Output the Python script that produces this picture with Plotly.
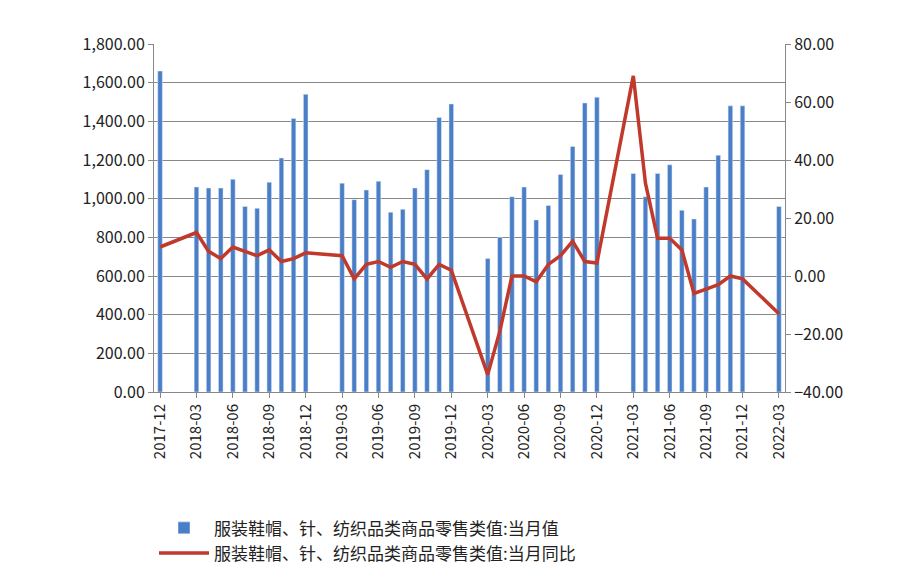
import plotly.graph_objects as go

months = []
y, m = 2017, 12
while (y, m) <= (2022, 3):
    months.append(f"{y}-{m:02d}")
    m += 1
    if m > 12:
        m = 1; y += 1

value_data = {
 "2017-12": 1660,
 "2018-03": 1060, "2018-04": 1055, "2018-05": 1055, "2018-06": 1100, "2018-07": 960, "2018-08": 950,
 "2018-09": 1085, "2018-10": 1210, "2018-11": 1415, "2018-12": 1540,
 "2019-03": 1080, "2019-04": 995, "2019-05": 1045, "2019-06": 1090, "2019-07": 930, "2019-08": 945,
 "2019-09": 1055, "2019-10": 1150, "2019-11": 1420, "2019-12": 1490,
 "2020-03": 690, "2020-04": 800, "2020-05": 1010, "2020-06": 1060, "2020-07": 890, "2020-08": 965,
 "2020-09": 1125, "2020-10": 1270, "2020-11": 1495, "2020-12": 1525,
 "2021-03": 1130, "2021-04": 1010, "2021-05": 1130, "2021-06": 1175, "2021-07": 940, "2021-08": 895,
 "2021-09": 1060, "2021-10": 1225, "2021-11": 1480, "2021-12": 1480,
 "2022-03": 960,
}
yoy_data = {
 "2017-12": 10,
 "2018-03": 15, "2018-04": 8.5, "2018-05": 6, "2018-06": 10, "2018-07": 8.5, "2018-08": 7,
 "2018-09": 9, "2018-10": 5, "2018-11": 6, "2018-12": 8,
 "2019-03": 7, "2019-04": -1, "2019-05": 4, "2019-06": 5, "2019-07": 3, "2019-08": 5,
 "2019-09": 4, "2019-10": -1, "2019-11": 4, "2019-12": 2,
 "2020-03": -34, "2020-04": -19, "2020-05": 0, "2020-06": 0, "2020-07": -2, "2020-08": 4,
 "2020-09": 7, "2020-10": 12, "2020-11": 5, "2020-12": 4.5,
 "2021-03": 69, "2021-04": 32, "2021-05": 13, "2021-06": 13, "2021-07": 9, "2021-08": -6,
 "2021-09": -4.5, "2021-10": -3, "2021-11": 0, "2021-12": -1,
 "2022-03": -13,
}
values = [value_data.get(k) for k in months]
yoy = [yoy_data.get(k) for k in months]
tick_labels = months[::3]

fig = go.Figure()
fig.add_bar(x=months, y=values, name="服装鞋帽、针、纺织品类商品零售类值:当月值",
            marker_color="#4a7fc8", width=0.38)
fig.add_scatter(x=months, y=yoy, yaxis="y2", mode="lines", connectgaps=True,
                name="服装鞋帽、针、纺织品类商品零售类值:当月同比",
                line=dict(color="#c0392b", width=3.5))

font = "Noto Sans CJK SC"
fig.update_layout(
    width=900, height=566, paper_bgcolor="white", plot_bgcolor="white",
    margin=dict(l=146, r=123, t=36, b=182, autoexpand=False),
    font=dict(family=font, size=16, color="#222"),
    xaxis=dict(type="category", categoryorder="array", categoryarray=months,
               tickmode="array", tickvals=tick_labels, ticktext=tick_labels,
               tickangle=-90, showline=True, linecolor="#888", ticks="outside",
               ticklen=5, tickcolor="#888", showgrid=False, tickfont=dict(size=15)),
    yaxis=dict(range=[0, 1800], dtick=200, tickformat=",.2f", gridcolor="#888",
               showline=True, linecolor="#888", ticks="outside", tickcolor="#888", ticklen=5,
               zeroline=False, tickfont=dict(size=16)),
    yaxis2=dict(overlaying="y", side="right", range=[-40, 80], dtick=20, tickformat=".2f",
                showgrid=False, showline=True, linecolor="#888", ticks="outside",
                tickcolor="#888", ticklen=5, zeroline=False, tickfont=dict(size=16)),
    legend=dict(orientation="v", x=0.0, y=-0.34, xanchor="left", yanchor="top",
                font=dict(size=17), tracegroupgap=18, itemwidth=50),
    bargap=0.5,
)
fig.write_html("out.html")
